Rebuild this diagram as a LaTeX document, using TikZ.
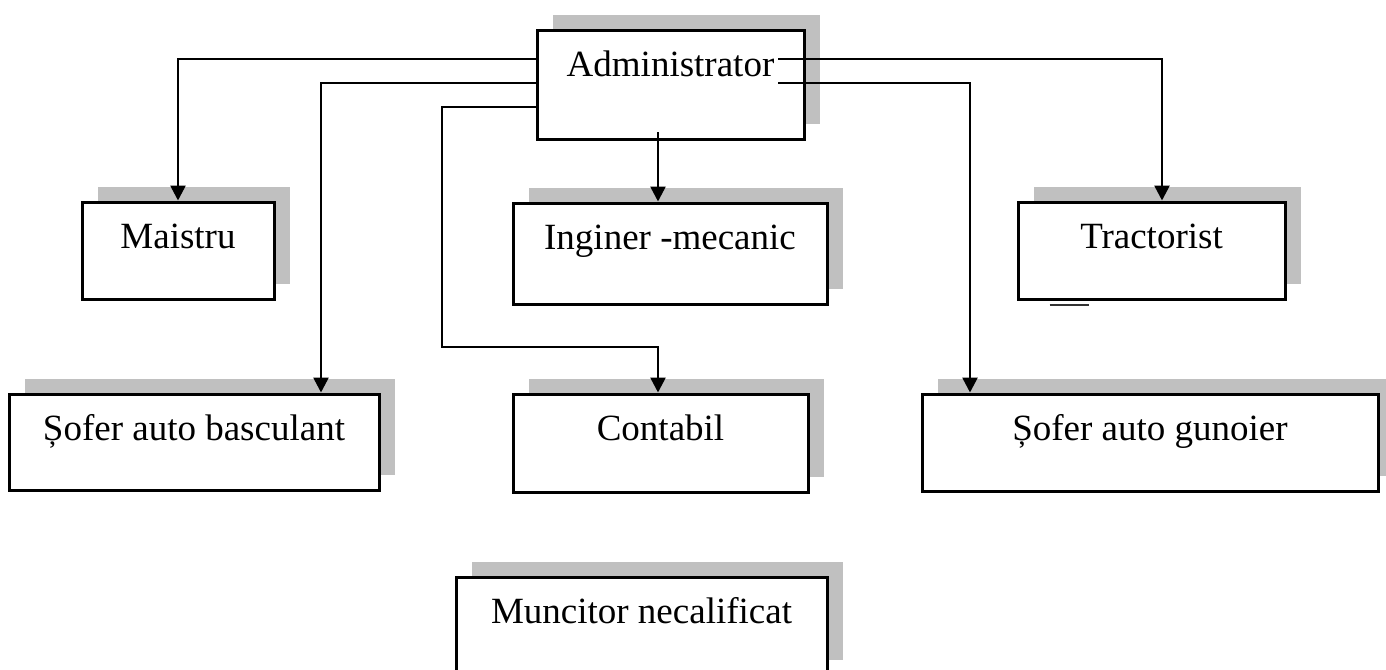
\documentclass[tikz,border=0pt]{standalone}
\usepackage{fontspec}
\setmainfont{Liberation Serif}
\usetikzlibrary{arrows.meta,shadows}
\definecolor{shadowgray}{RGB}{192,192,192}
\begin{document}
\begin{tikzpicture}[x=0.5pt,y=-0.5pt,
  post/.style={draw, line width=1.5pt, fill=white, inner sep=0pt, text height=23pt,
    font=\fontsize{18.5}{22}\selectfont,
    general shadow={fill=shadowgray, shadow xshift=8pt, shadow yshift=7.75pt}},
  link/.style={line width=1.3pt, -{Triangle[width=7.5pt,length=7.5pt]}}]
\clip (0,0) rectangle (1386,669);
\node[post, minimum width=133.5pt, text depth=31.5pt] (adm) at (670.5,84.5) {Administrator};
\node[post, minimum width=96pt, text depth=25.5pt] (mai) at (178,250.5) {Maistru};
\node[post, minimum width=157pt, text depth=27.5pt] (ing) at (670,253.5) {Inginer -mecanic};
\node[post, minimum width=133.5pt, text depth=25.5pt] (tra) at (1151.5,250.5) {Tractorist};
\node[post, minimum width=185pt, text depth=25pt] (sba) at (194,442) {Șofer auto basculant};
\node[post, minimum width=147.5pt, text depth=26pt] (con) at (660.5,443) {Contabil};
\node[post, minimum width=228pt, text depth=25.5pt] (sgu) at (1150,442.5) {Șofer auto gunoier};
\node[post, minimum width=185.5pt, text depth=26pt] (mun) at (641.5,626) {Muncitor necalificat};
\coordinate (adm-r1) at (778,59);
\coordinate (adm-r2) at (778,83);
\coordinate (adm-b) at (658,132);
\coordinate (con-turn) at (442,347);
\draw[link](adm.west |- 0,59) -| (mai.north);
\draw[link](adm.west |- 0,83) -| (321,0 |- sba.north);
\draw[link](adm.west |- 0,107) -| (con-turn) -| (658,0 |- con.north);
\draw[link](adm-r1) -| (1162,0 |- tra.north);
\draw[link](adm-r2) -| (970,0 |- sgu.north);
\draw[link](adm-b) -- (658,0 |- ing.north);
\draw[line width=1pt, black!80](tra.south west) ++(33,4) -- ++(39,0);
\end{tikzpicture}
\end{document}
